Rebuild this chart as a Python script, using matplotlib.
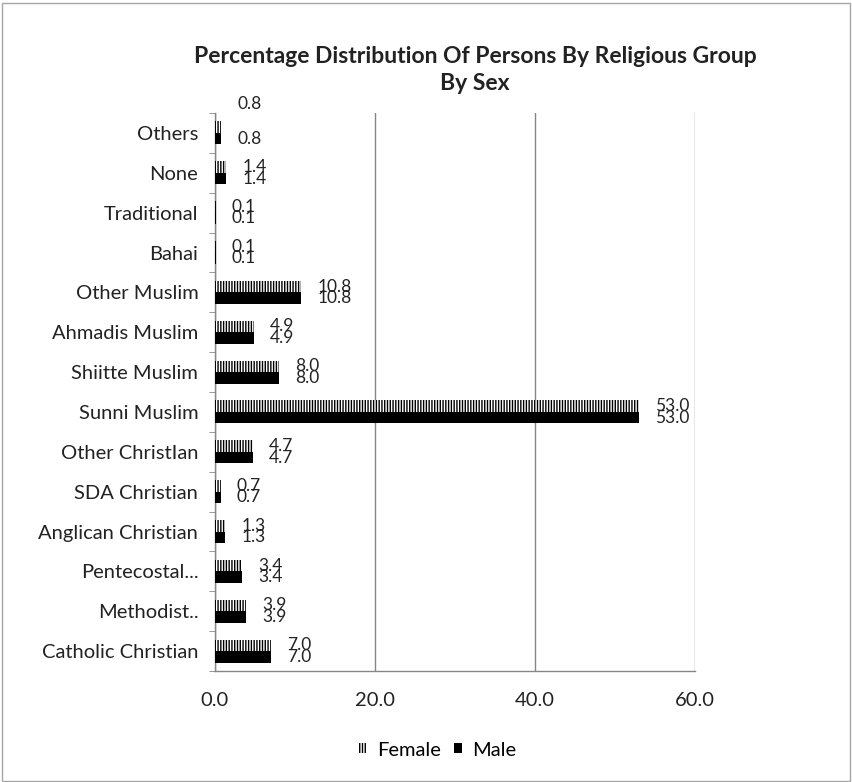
import matplotlib
matplotlib.use("Agg")
import matplotlib.pyplot as plt
from matplotlib.patches import Rectangle, Patch
import numpy as np

categories = ["Catholic Christian", "Methodist..", "Pentecostal...", "Anglican Christian",
              "SDA Christian", "Other ChristIan", "Sunni Muslim", "Shiitte Muslim",
              "Ahmadis Muslim", "Other Muslim", "Bahai", "Traditional", "None", "Others"]
female = [7.0, 3.9, 3.4, 1.3, 0.7, 4.7, 53.0, 8.0, 4.9, 10.8, 0.1, 0.1, 1.4, 0.8]
male = [7.0, 3.9, 3.4, 1.3, 0.7, 4.7, 53.0, 8.0, 4.9, 10.8, 0.1, 0.1, 1.4, 0.8]
xticks = [0, 20, 40, 60]
title = "Percentage Distribution Of Persons By Religious Group\nBy Sex"

plt.rcParams['font.family'] = ['Lato', 'DejaVu Sans']
plt.rcParams['hatch.linewidth'] = 1.0
plt.rcParams['hatch.color'] = 'black'

W, H = 852, 782
fig = plt.figure(figsize=(W / 100, H / 100), dpi=100)
fig.patch.set_facecolor('white')
fig.patches.append(Rectangle((1.5 / W, 1.5 / H), (W - 4) / W, (H - 4) / H,
                             transform=fig.transFigure, fill=False,
                             edgecolor='#a6a6a6', linewidth=1.0))

ax = fig.add_axes([215 / W, 1 - 671 / H, 480 / W, 558 / H])
y = np.arange(len(categories))
bh = 0.29
ax.barh(y + bh / 2, female, height=bh, color='white', edgecolor='black', linewidth=0,
        hatch='||||||', label='Female', zorder=3)
ax.barh(y - bh / 2, male, height=bh, color='black', edgecolor='black', linewidth=0,
        label='Male', zorder=3)

for i, (f, m) in enumerate(zip(female, male)):
    fy = y[i] + bh / 2
    if categories[i] == "Others":
        fy = y[i] + 0.72
    ax.annotate(f"{f:.1f}", (f, fy), xytext=(11.5, 0), textcoords='offset points',
                va='center', ha='left', fontsize=12.5, color='#222222',
                annotation_clip=False)
    ax.annotate(f"{m:.1f}", (m, y[i] - bh / 2), xytext=(11.5, 0), textcoords='offset points',
                va='center', ha='left', fontsize=12.5, color='#222222',
                annotation_clip=False)

ax.set_xlim(0, 60)
ax.set_ylim(-0.5, len(categories) - 0.5)
ax.set_xticks(xticks)
ax.set_xticklabels([f"{v:.1f}" for v in xticks], fontsize=14.5, color='#222222')
ax.set_yticks(y)
ax.set_yticklabels(categories, fontsize=14.5, color='#222222')
ax.set_yticks(np.arange(-0.5, len(categories), 1.0), minor=True)
ax.tick_params(axis='y', which='major', length=0, pad=12)
ax.tick_params(axis='y', which='minor', length=4.5, color='#868686', direction='out')
ax.tick_params(axis='x', length=0, pad=15)
ax.xaxis.grid(True, color='#868686', linewidth=1.0, zorder=0)
ax.set_axisbelow(True)
for s in ['top', 'right']:
    ax.spines[s].set_visible(False)
for s in ['left', 'bottom']:
    ax.spines[s].set_color('#868686')
    ax.spines[s].set_linewidth(1.0)

fig.text(475 / W, 1 - 70 / H, title, ha='center', va='center', fontsize=16.5,
         fontweight='bold', color='#222222', linespacing=1.3)

handles = [Patch(facecolor='white', hatch='||||||', edgecolor='black', linewidth=0, label='Female'),
           Patch(facecolor='black', edgecolor='black', linewidth=0, label='Male')]
fig.legend(handles=handles, loc='center', bbox_to_anchor=(438 / W, 1 - 750 / H), ncol=2,
           frameon=False, fontsize=14.5, handlelength=0.4, handleheight=0.4,
           handletextpad=0.5, columnspacing=0.65)

fig.savefig("out.png", dpi=100)
